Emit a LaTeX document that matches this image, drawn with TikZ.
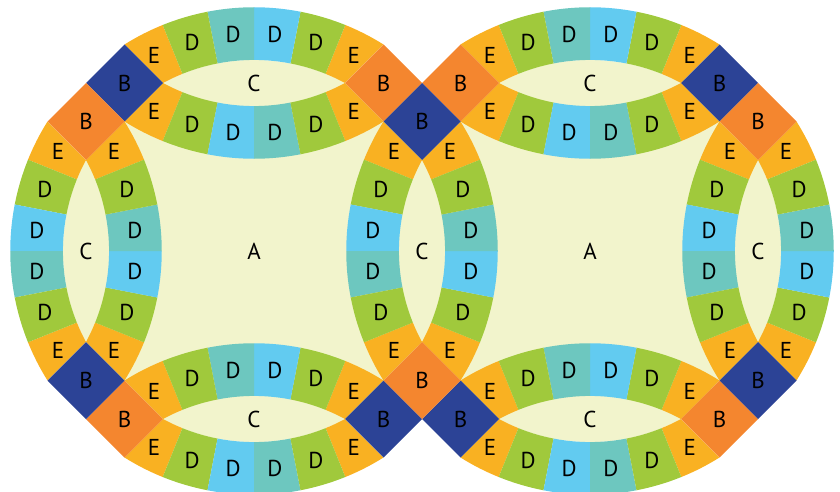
\documentclass[tikz,border=0pt]{standalone}
\usepackage{fontspec}
\setmainfont{PT Sans}
\usetikzlibrary{shapes.geometric}

\definecolor{quiltcream}{HTML}{F2F4CC}
\definecolor{quiltyellow}{HTML}{F9B122}
\definecolor{quiltgreen}{HTML}{A0C93C}
\definecolor{quiltteal}{HTML}{6DC7BF}
\definecolor{quiltblue}{HTML}{62CBF0}
\definecolor{quiltnavy}{HTML}{2C4396}
\definecolor{quiltorange}{HTML}{F4862F}

% ring measures (pt): outer/inner radius, end angles of the arcs, piece angle
\newcommand{\ringro}{243.75}
\newcommand{\ringri}{191.06}
\newcommand{\ringao}{32.09}
\newcommand{\ringai}{28.44}
\newcommand{\ringdd}{11}

% one annular piece #1..#2 (degrees) in colour #3
\newcommand{\ringpiece}[3]{%
  \fill[#3] (#1:\ringri) arc[start angle=#1, end angle=#2, radius=\ringri]
    -- (#2:\ringro) arc[start angle=#2, end angle=#1, radius=\ringro] -- cycle;}

% arc #1 of the ring centred at #2, facing #3, middle pieces #4 and #5
\newcommand{\ringarc}[5]{%
  \begin{scope}[shift={#2}]
    \fill[quiltyellow] (#3-\ringao:\ringro) -- (#3-\ringai:\ringri)
      arc[start angle=#3-\ringai, end angle=#3-2*\ringdd, radius=\ringri]
      -- (#3-2*\ringdd:\ringro)
      arc[start angle=#3-2*\ringdd, end angle=#3-\ringao, radius=\ringro] -- cycle;
    \fill[quiltyellow] (#3+\ringao:\ringro) -- (#3+\ringai:\ringri)
      arc[start angle=#3+\ringai, end angle=#3+2*\ringdd, radius=\ringri]
      -- (#3+2*\ringdd:\ringro)
      arc[start angle=#3+2*\ringdd, end angle=#3+\ringao, radius=\ringro] -- cycle;
    \ringpiece{#3-2*\ringdd}{#3-\ringdd}{quiltgreen}
    \ringpiece{#3-\ringdd}{#3}{#4}
    \ringpiece{#3}{#3+\ringdd}{#5}
    \ringpiece{#3+\ringdd}{#3+2*\ringdd}{quiltgreen}
    \node[patchlabel] (#1-e1) at (#3-27:220) {E};
    \node[patchlabel] (#1-d1) at (#3-16.5:218) {D};
    \node[patchlabel] (#1-d2) at (#3-5.5:218) {D};
    \node[patchlabel] (#1-d3) at (#3+5.5:218) {D};
    \node[patchlabel] (#1-d4) at (#3+16.5:218) {D};
    \node[patchlabel] (#1-e2) at (#3+27:220) {E};
  \end{scope}}

\begin{document}
\begin{tikzpicture}[x=1pt,y=1pt]
\tikzset{
  patchlabel/.style={inner sep=0pt,text=black,font=\fontsize{23}{27}\selectfont},
  cornersq/.style={diamond,draw=none,minimum width=77pt,minimum height=77pt,inner sep=0pt,outer sep=0pt,patchlabel},
  navysq/.style={cornersq,fill=quiltnavy},
  orangesq/.style={cornersq,fill=quiltorange}
}
\useasboundingbox (0,0) rectangle (840,491);
% blocks
\fill[quiltcream] (254,240) circle[radius=\ringri];
\fill[quiltcream] (590,240) circle[radius=\ringri];
% arcs
\ringarc{a1top}{(254,240)}{90}{quiltblue}{quiltteal}
\ringarc{n1top}{(254,576)}{270}{quiltblue}{quiltteal}
\ringarc{a1bot}{(254,240)}{270}{quiltblue}{quiltteal}
\ringarc{n1bot}{(254,-96)}{90}{quiltblue}{quiltteal}
\ringarc{a1left}{(254,240)}{180}{quiltblue}{quiltteal}
\ringarc{n1left}{(-82,240)}{0}{quiltblue}{quiltteal}
\ringarc{a1right}{(254,240)}{0}{quiltblue}{quiltteal}
\ringarc{a2left}{(590,240)}{180}{quiltblue}{quiltteal}
\ringarc{a2top}{(590,240)}{90}{quiltblue}{quiltteal}
\ringarc{n2top}{(590,576)}{270}{quiltblue}{quiltteal}
\ringarc{a2bot}{(590,240)}{270}{quiltblue}{quiltteal}
\ringarc{n2bot}{(590,-96)}{90}{quiltblue}{quiltteal}
\ringarc{a2right}{(590,240)}{0}{quiltblue}{quiltteal}
\ringarc{n2right}{(926,240)}{180}{quiltblue}{quiltteal}
% corner squares
\node[navysq] (b1) at (124.5,408) {B};
\node[orangesq] (b2) at (86,369.5) {B};
\node[orangesq] (b3) at (383.5,408) {B};
\node[orangesq] (b4) at (460.5,408) {B};
\node[navysq] (b5) at (422,369.5) {B};
\node[navysq] (b6) at (719.5,408) {B};
\node[orangesq] (b7) at (758,369.5) {B};
\node[orangesq] (b8) at (124.5,72) {B};
\node[navysq] (b9) at (86,110.5) {B};
\node[navysq] (b10) at (383.5,72) {B};
\node[navysq] (b11) at (460.5,72) {B};
\node[orangesq] (b12) at (422,110.5) {B};
\node[orangesq] (b13) at (719.5,72) {B};
\node[navysq] (b14) at (758,110.5) {B};
% melons and blocks
\node[patchlabel] (c1) at (254,408) {C};
\node[patchlabel] (c2) at (254,72) {C};
\node[patchlabel] (c3) at (86,240) {C};
\node[patchlabel] (c4) at (422,240) {C};
\node[patchlabel] (c5) at (590,408) {C};
\node[patchlabel] (c6) at (590,72) {C};
\node[patchlabel] (c7) at (758,240) {C};
\node[patchlabel] (a1) at (254,240) {A};
\node[patchlabel] (a2) at (590,240) {A};
\end{tikzpicture}
\end{document}
